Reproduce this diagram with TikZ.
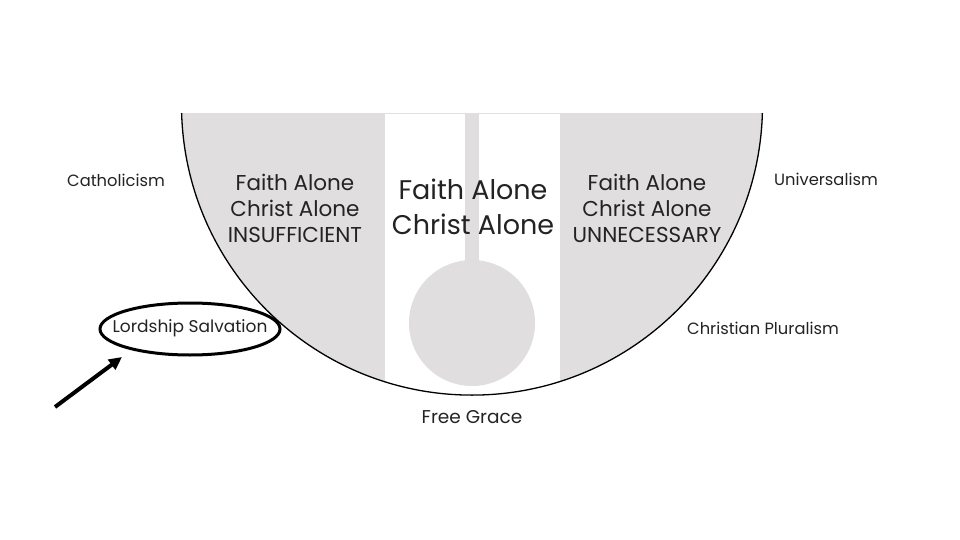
\documentclass[tikz,border=0pt]{standalone}
\usepackage{fontspec}
\setmainfont{Poppins}
\usetikzlibrary{arrows.meta}
\definecolor{bowlgray}{RGB}{224,222,222}
\definecolor{inkgray}{RGB}{35,35,35}

\begin{document}
\begin{tikzpicture}[x=1pt,y=-1pt,
  side/.style={text=inkgray, inner sep=0pt, font=\fontsize{16.3}{18}\selectfont},
  block/.style={text=inkgray, inner sep=0pt, align=center, font=\fontsize{21.5}{26}\selectfont}]
  \useasboundingbox (0,0) rectangle (960,540);
  % the bowl
  \begin{scope}
    \clip (0,114) rectangle (960,540);
    \fill[bowlgray] (472,104.6) circle (290.5);
    \fill[white] (385,114) rectangle (560,400);
    \fill[bowlgray] (465,114) rectangle (479,300);
    \fill[bowlgray] (472,323) circle (63);
    \draw[black, line width=1.3] (472,104.6) circle (290.5);
  \end{scope}
  % the three views
  \node[block] (insuff) at (295,208) {Faith Alone\\Christ Alone\\INSUFFICIENT};
  \node[block, font=\fontsize{27}{35}\selectfont] (alone) at (473,207) {Faith Alone\\Christ Alone};
  \node[block] (unnec) at (647,208) {Faith Alone\\Christ Alone\\UNNECESSARY};
  % labels round the bowl
  \node[side] (cath) at (116,180) {Catholicism};
  \node[side] (univ) at (826,179) {Universalism};
  \node[side] (plural) at (763,328) {Christian Pluralism};
  \node[side, font=\fontsize{18.5}{20}\selectfont] (grace) at (472,417) {Free Grace};
  \node[side, font=\fontsize{17}{18}\selectfont] (lordship) at (190,328) {Lordship Salvation};
  \draw[black, line width=3] (190,329) ellipse [x radius=90, y radius=26];
  \coordinate (tail) at (55,407);
  \draw[black, line width=4, -{Triangle[length=13pt,width=12pt]}] (tail) -- ([shift={(-68pt,-29pt)}]lordship.center);
\end{tikzpicture}
\end{document}
